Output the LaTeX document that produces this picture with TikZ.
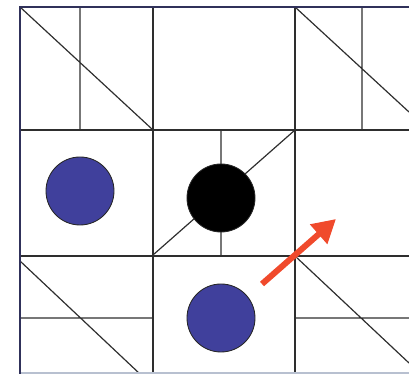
\documentclass[tikz,border=0pt]{standalone}
\usetikzlibrary{arrows.meta}
\definecolor{frame}{HTML}{30315A}
\definecolor{disc}{HTML}{40409C}
\definecolor{accent}{HTML}{F04A2C}
\definecolor{rim}{HTML}{B8C0D0}

\begin{document}
\begin{tikzpicture}[x=0.25mm,y=-0.25mm,
    grid/.style={line width=0.85pt,draw=black!82},
    disc/.style={circle,draw=black!85,line width=0.6pt,fill=disc,
                 minimum size=17mm,inner sep=0pt},
    move/.style={line width=1.5mm,draw=accent,
                 -{Triangle[length=5.8mm,width=6.2mm]}}]
  \useasboundingbox (0,0) rectangle (409,374);

  \draw[grid] (20,130) -- (409,130) (20,256) -- (409,256);
  \draw[grid] (153,7) -- (153,374) (295,7) -- (295,374);

  \draw[grid] (80,7) -- (80,130) (20,7) -- (153,130);
  \draw[grid] (362,7) -- (362,130) (295,7) -- (409,112);
  \draw[grid] (221,130) -- (221,256) (295,130) -- (153,255);
  \draw[grid] (20,318) -- (153,318) (20,261) -- (140,374);
  \draw[grid] (295,318) -- (409,318) (295,256) -- (409,363);

  \node[disc] (leftdisc) at (80,191) {};
  \node[disc,fill=black] (stone) at (221,198) {};
  \node[disc] (lowdisc) at (221,318) {};

  \coordinate (tail) at (262,284);
  \coordinate (tip) at (336,219);
  \draw[move] (tail) -- (tip);

  \draw[rim,line width=0.8pt] (20,373) -- (409,373);
  \draw[frame,line width=2pt] (20,374) -- (20,7) -- (409,7);
\end{tikzpicture}
\end{document}
